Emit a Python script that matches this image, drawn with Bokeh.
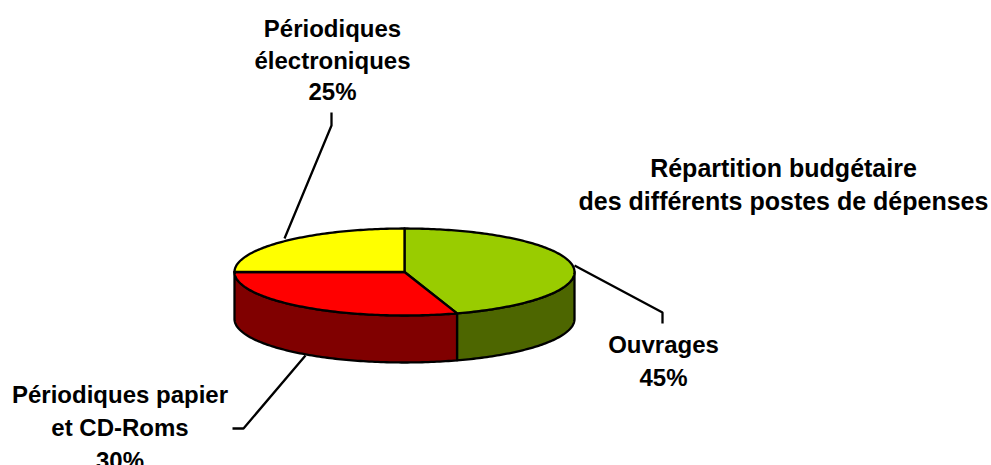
import numpy as np
from bokeh.plotting import figure
from bokeh.models import Range1d
from bokeh.core.properties import value
from bokeh.embed import file_html
from bokeh.resources import INLINE

names = ["Ouvrages", "Périodiques papier et CD-Roms", "Périodiques électroniques"]
shares = [45, 30, 25]
top_colors = ["#99CC00", "#FF0000", "#FFFF00"]
side_colors = ["#4D6600", "#800000", "#808000"]

title_lines = ["Répartition budgétaire", "des différents postes de dépenses"]
label_lines = [["Ouvrages", "45%"],
               ["Périodiques papier", "et CD-Roms", "30%"],
               ["Périodiques", "électroniques", "25%"]]

CX, CY, RX, RY, DEPTH = 404.0, 271.5, 170.0, 43.5, 47.0
FONT = value("Liberation Sans")

p = figure(width=991, height=465, x_range=Range1d(0, 991), y_range=Range1d(465, 0),
           output_backend="svg", toolbar_location=None, outline_line_color=None,
           min_border=0, border_fill_color="white", background_fill_color="white")
p.axis.visible = False
p.grid.visible = False


def arc(a0, a1):
    """Ellipse arc, angles clockwise from the top, degrees."""
    n = max(int(abs(a1 - a0)), 2) + 1
    t = np.radians(np.linspace(a0, a1, n))
    return CX + RX * np.sin(t), CY - RY * np.cos(t)


edges = np.cumsum([0] + shares) / sum(shares) * 360.0

# side walls (only the front half of the ellipse, 90..270 degrees)
for i in range(len(shares)):
    a0, a1 = max(edges[i], 90.0), min(edges[i + 1], 270.0)
    if a1 <= a0:
        continue
    x, y = arc(a0, a1)
    xs = np.concatenate([x, x[::-1]])
    ys = np.concatenate([y, y[::-1] + DEPTH])
    p.patch(xs, ys, fill_color=side_colors[i], line_color="black", line_width=2.3, line_join="round")

# top slices
for i in range(len(shares)):
    x, y = arc(edges[i], edges[i + 1])
    p.patch(np.r_[CX, x], np.r_[CY, y], fill_color=top_colors[i], line_color="black",
            line_width=2.3, line_join="round")

# leader lines
leaders = [([574, 662, 662], [265, 312, 323]),
           ([305, 243, 232], [355, 428, 428]),
           ([284, 331, 331], [238, 125, 112])]
for lx, ly in leaders:
    p.line(lx, ly, line_color="black", line_width=2.3)


def block(lines, cx, ys, fs="24px"):
    p.text([cx] * len(lines), ys, text=lines, text_font=FONT, text_font_style="bold",
           text_font_size=fs, text_align="center", text_baseline="middle", text_color="black")


block(title_lines, 783, [167.5, 200], "25px")
block(label_lines[0], 663, [344, 377])
block(label_lines[1], 119.5, [394, 427, 460])
block(label_lines[2], 332, [28, 60, 91])

open("out.html", "w").write(file_html(p, INLINE))
